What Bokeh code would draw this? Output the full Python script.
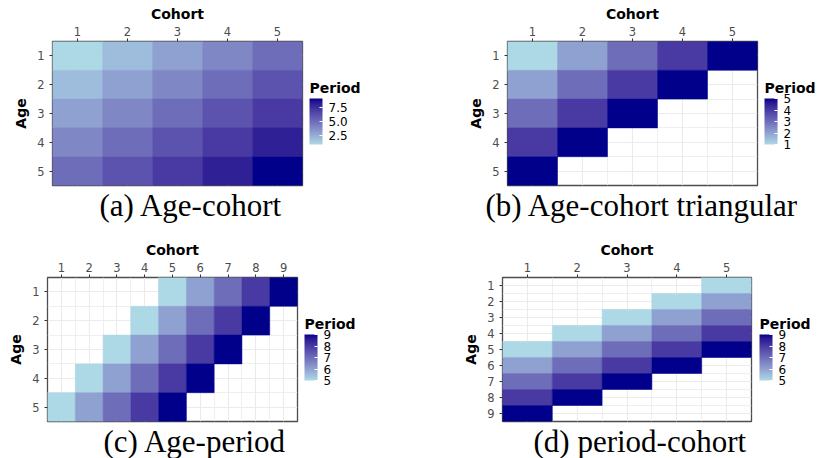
import numpy as np
from bokeh.plotting import figure
from bokeh.models import (Range1d, FixedTicker, LinearColorMapper, ColorBar, Title,
                          ColumnDataSource, PrintfTickFormatter, AllLabels)
from bokeh.layouts import column, row
from bokeh.transform import transform
from bokeh.embed import file_html
from bokeh.resources import INLINE

# ---------------------------------------------------------------- data
# Period index for each (age, cohort) cell; None = cell not observed.
A_AGES = [1, 2, 3, 4, 5]
A_COHORTS = [1, 2, 3, 4, 5]
A_PERIOD = [
    [1, 2, 3, 4, 5],
    [2, 3, 4, 5, 6],
    [3, 4, 5, 6, 7],
    [4, 5, 6, 7, 8],
    [5, 6, 7, 8, 9],
]
A_TICKS = [2.5, 5.0, 7.5]

B_AGES = [1, 2, 3, 4, 5]
B_COHORTS = [1, 2, 3, 4, 5]
B_PERIOD = [
    [1, 2, 3, 4, 5],
    [2, 3, 4, 5, None],
    [3, 4, 5, None, None],
    [4, 5, None, None, None],
    [5, None, None, None, None],
]
B_TICKS = [1, 2, 3, 4, 5]

C_AGES = [1, 2, 3, 4, 5]
C_COHORTS = [1, 2, 3, 4, 5, 6, 7, 8, 9]
C_PERIOD = [
    [None, None, None, None, 5, 6, 7, 8, 9],
    [None, None, None, 5, 6, 7, 8, 9, None],
    [None, None, 5, 6, 7, 8, 9, None, None],
    [None, 5, 6, 7, 8, 9, None, None, None],
    [5, 6, 7, 8, 9, None, None, None, None],
]
C_TICKS = [5, 6, 7, 8, 9]

D_AGES = [1, 2, 3, 4, 5, 6, 7, 8, 9]
D_COHORTS = [1, 2, 3, 4, 5]
D_PERIOD = [
    [None, None, None, None, 5],
    [None, None, None, 5, 6],
    [None, None, 5, 6, 7],
    [None, 5, 6, 7, 8],
    [5, 6, 7, 8, 9],
    [6, 7, 8, 9, None],
    [7, 8, 9, None, None],
    [8, 9, None, None, None],
    [9, None, None, None, None],
]
D_TICKS = [5, 6, 7, 8, 9]

CAPTIONS = ["(a) Age-cohort", "(b) Age-cohort triangular",
            "(c) Age-period", "(d) period-cohort"]

# ---------------------------------------------------------------- colours
LOW, HIGH = "#ADD8E6", "#00008B"   # lightblue -> darkblue, blended in CIELAB

_M = np.array([[0.4124564, 0.3575761, 0.1804375],
               [0.2126729, 0.7151522, 0.0721750],
               [0.0193339, 0.1191920, 0.9503041]])
_WHITE = np.array([0.95047, 1.0, 1.08883])
_D = 6 / 29


def hex_to_lab(h):
    rgb = np.array([int(h[i:i + 2], 16) for i in (1, 3, 5)]) / 255
    lin = np.where(rgb <= 0.04045, rgb / 12.92, ((rgb + 0.055) / 1.055) ** 2.4)
    t = (_M @ lin) / _WHITE
    f = np.where(t > _D ** 3, np.cbrt(t), t / (3 * _D ** 2) + 4 / 29)
    return np.array([116 * f[1] - 16, 500 * (f[0] - f[1]), 200 * (f[1] - f[2])])


def lab_to_hex(lab):
    L, a, b = lab
    fy = (L + 16) / 116
    f = np.array([fy + a / 500, fy, fy - b / 200])
    t = np.where(f > _D, f ** 3, 3 * _D ** 2 * (f - 4 / 29))
    lin = np.clip(np.linalg.solve(_M, t * _WHITE), 0, 1)
    rgb = np.where(lin <= 0.0031308, 12.92 * lin, 1.055 * lin ** (1 / 2.4) - 0.055)
    rgb = np.clip(np.round(rgb * 255), 0, 255).astype(int)
    return "#%02x%02x%02x" % tuple(rgb)


_l0, _l1 = hex_to_lab(LOW), hex_to_lab(HIGH)
PALETTE = [lab_to_hex(_l0 + (_l1 - _l0) * k / 255) for k in range(256)]

SANS = "DejaVu Sans"
SERIF = "Liberation Serif"


def heat_panel(ages, cohorts, periods, ticks, fmt, caption, *, width, height,
               left, right, top, bottom, cap_offset):
    rows = [(c, a, v) for a, line in zip(ages, periods)
            for c, v in zip(cohorts, line) if v is not None]
    src = ColumnDataSource(dict(cohort=[r[0] for r in rows],
                                age=[r[1] for r in rows],
                                period=[r[2] for r in rows]))
    vals = [r[2] for r in rows]
    mapper = LinearColorMapper(palette=PALETTE, low=min(vals), high=max(vals))

    p = figure(width=width, height=height, output_backend="svg", toolbar_location=None,
               x_range=Range1d(0.5, len(cohorts) + 0.5),
               y_range=Range1d(len(ages) + 0.5, 0.5),
               x_axis_location="above",
               min_border_left=left, min_border_right=right,
               min_border_top=top, min_border_bottom=bottom)
    p.background_fill_color = "white"
    p.border_fill_color = "white"
    p.outline_line_color = "#4D4D4D"
    p.outline_line_width = 1.3

    p.xaxis.ticker = FixedTicker(ticks=cohorts,
                                 minor_ticks=[c - 0.5 for c in cohorts] + [cohorts[-1] + 0.5])
    p.yaxis.ticker = FixedTicker(ticks=ages,
                                 minor_ticks=[a - 0.5 for a in ages] + [ages[-1] + 0.5])
    p.xaxis.axis_label = "Cohort"
    p.yaxis.axis_label = "Age"
    for ax in (p.xaxis, p.yaxis):
        ax.axis_line_color = None
        ax.minor_tick_line_color = None
        ax.major_tick_line_color = "#333333"
        ax.major_tick_out = 3
        ax.major_tick_in = 0
        ax.major_label_text_font = SANS
        ax.major_label_text_font_size = "11.5px"
        ax.major_label_text_color = "#4D4D4D"
        ax.axis_label_text_font = SANS
        ax.axis_label_text_font_size = "14px"
        ax.axis_label_text_font_style = "bold"
        ax.axis_label_text_color = "black"
    p.xaxis.major_label_standoff = 2
    p.xaxis.axis_label_standoff = 2
    p.yaxis.major_label_standoff = 4
    p.yaxis.axis_label_standoff = 5

    for g in (p.xgrid, p.ygrid):
        g.grid_line_color = "#EBEBEB"
        g.grid_line_width = 1.1
        g.minor_grid_line_color = "#EBEBEB"
        g.minor_grid_line_width = 0.8

    p.rect(x="cohort", y="age", width=1, height=1, source=src,
           fill_color=transform("period", mapper),
           line_color=transform("period", mapper), line_width=0.5)

    # gradient bar with its tick labels
    p.add_layout(ColorBar(
        color_mapper=mapper, location=(257, 41), width=13, height=46,
        padding=0, margin=0,
        ticker=FixedTicker(ticks=ticks),
        formatter=PrintfTickFormatter(format=fmt),
        major_label_policy=AllLabels(),
        major_label_text_font=SANS, major_label_text_font_size="12px",
        major_label_text_color="black", label_standoff=6,
        major_tick_line_color="white", major_tick_in=3, major_tick_out=0,
        minor_tick_line_color=None, bar_line_color=None,
        border_line_color=None, background_fill_alpha=0))

    # legend heading, set horizontally above the bar
    p.add_layout(ColorBar(
        color_mapper=mapper, orientation="horizontal", location=(257, 89),
        width=40, height=1, padding=0, margin=0, scale_alpha=0,
        ticker=FixedTicker(ticks=[]), major_label_text_alpha=0,
        major_tick_line_color=None, minor_tick_line_color=None,
        bar_line_color=None, border_line_color=None, background_fill_alpha=0,
        title="Period", title_text_font=SANS, title_text_font_size="14px",
        title_text_font_style="bold", title_text_color="black", title_standoff=0))

    p.add_layout(Title(text=caption, align="left", offset=cap_offset,
                       text_font=SERIF, text_font_size="31px",
                       text_font_style="normal", text_color="black",
                       standoff=0, vertical_align="bottom"), "below")
    return p


pa = heat_panel(A_AGES, A_COHORTS, A_PERIOD, A_TICKS, "%.1f", CAPTIONS[0],
                width=410, height=229, left=52, right=108, top=41, bottom=44,
                cap_offset=47)
pb = heat_panel(B_AGES, B_COHORTS, B_PERIOD, B_TICKS, "%d", CAPTIONS[1],
                width=409, height=229, left=97, right=62, top=41, bottom=44,
                cap_offset=-22)
pc = heat_panel(C_AGES, C_COHORTS, C_PERIOD, C_TICKS, "%d", CAPTIONS[2],
                width=410, height=229, left=47, right=113, top=48, bottom=37,
                cap_offset=56)
pd = heat_panel(D_AGES, D_COHORTS, D_PERIOD, D_TICKS, "%d", CAPTIONS[3],
                width=409, height=229, left=92, right=68, top=46, bottom=37,
                cap_offset=31)

layout = column(row(pa, pb), row(pc, pd))
open("out.html", "w").write(file_html(layout, INLINE))
